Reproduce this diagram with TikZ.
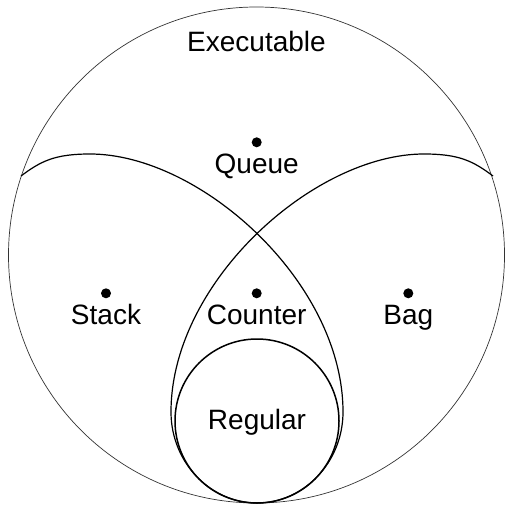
\documentclass[tikz,border=0pt]{standalone}
\usepackage{fontspec}
\setmainfont{Liberation Sans}
\usepackage{tikz}

\tikzset{
  set/.style={line width=1.2pt, black},
  dot/.style={circle, fill=black, inner sep=0pt, minimum size=10pt},
  lbl/.style={font=\fontsize{28}{32}\selectfont, inner sep=0pt, anchor=base}
}

\begin{document}
\begin{tikzpicture}[x=1pt, y=-1pt]
  \useasboundingbox (0,0) rectangle (505,505);
  % outer set
  \draw[line width=0.7pt, black!80] (256.5,255) circle[radius=248];
  \node[lbl] (exec) at (256.5,51.5) {Executable};
  % left and right lobes
  \coordinate (sl) at (21,176);
  \coordinate (sr) at (493,176);
  \coordinate (bot) at (257,503);
  \draw[set] (sl) .. controls (41,161) and (55,154) .. (90,154)
    .. controls (200,154) and (343,282) .. (343,412)
    .. controls (343,462) and (304,503) .. (bot);
  \draw[set] (sr) .. controls (473,161) and (459,154) .. (424,154)
    .. controls (314,154) and (171,282) .. (171,412)
    .. controls (171,462) and (210,503) .. (bot);
  % innermost set
  \draw[line width=1.5pt] (257,421) circle[radius=82];
  \node[lbl] (reg) at (257,429.5) {Regular};
  % members
  \node[dot] (qdot) at (256.7,142.3) {};
  \node[lbl] (queue) at (256.7,173) {Queue};
  \node[dot] (sdot) at (106,293.3) {};
  \node[lbl] (stack) at (106,324.3) {Stack};
  \node[dot] (cdot) at (256.7,293.3) {};
  \node[lbl] (counter) at (256.7,324.3) {Counter};
  \node[dot] (bdot) at (408.3,293.3) {};
  \node[lbl] (bag) at (408.3,324.3) {Bag};
\end{tikzpicture}
\end{document}
